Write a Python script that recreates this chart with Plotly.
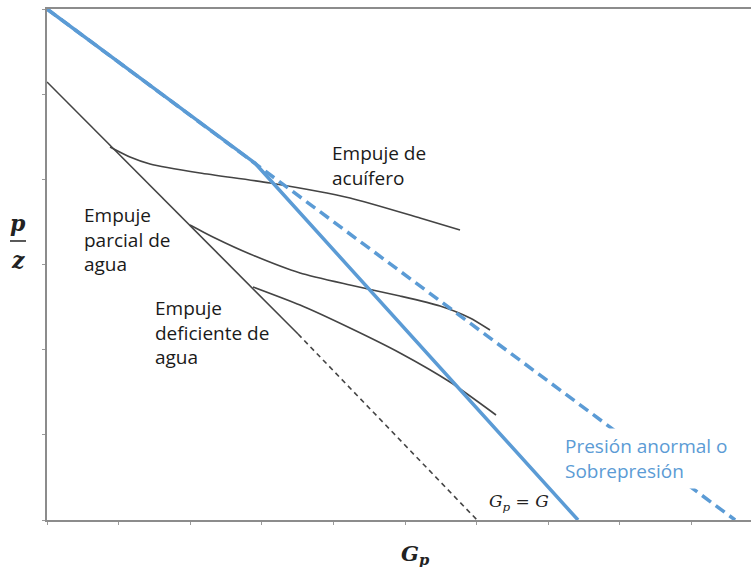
import plotly.graph_objects as go

# ---- data (axis units: x = Gp, y = p/z) ----
over_dash_x = [0.0, 9.61]
over_dash_y = [6.0, 0.0]

over_solid_x = [0.0, 2.905, 7.416]
over_solid_y = [6.0, 4.19, 0.0]

vol_solid_x = [0.0, 3.506]
vol_solid_y = [5.143, 2.184]
vol_dash_x = [3.506, 6.006]
vol_dash_y = [2.184, 0.0]

aq_x = [0.88, 1.159, 1.439, 2.137, 3.115, 4.232, 5.209, 5.768]
aq_y = [4.38, 4.262, 4.180, 4.074, 3.957, 3.781, 3.546, 3.405]

part_x = [1.997, 2.346, 2.835, 3.534, 4.232, 4.930, 5.489, 5.908, 6.187]
part_y = [3.464, 3.311, 3.123, 2.900, 2.759, 2.630, 2.513, 2.372, 2.231]

def_x = [2.877, 3.534, 4.232, 4.930, 5.628, 6.271]
def_y = [2.736, 2.524, 2.254, 1.961, 1.620, 1.233]

BLACK = "#444444"
BLUE = "#5b9bd5"

fig = go.Figure()
fig.add_trace(go.Scatter(x=vol_solid_x, y=vol_solid_y, mode="lines",
                         line=dict(color=BLACK, width=1.6)))
fig.add_trace(go.Scatter(x=vol_dash_x, y=vol_dash_y, mode="lines",
                         line=dict(color=BLACK, width=1.6, dash="5px,4px")))
for xs, ys in [(aq_x, aq_y), (part_x, part_y), (def_x, def_y)]:
    fig.add_trace(go.Scatter(x=xs, y=ys, mode="lines",
                             line=dict(color=BLACK, width=1.6, shape="spline", smoothing=0.6)))
fig.add_trace(go.Scatter(x=over_dash_x, y=over_dash_y, mode="lines",
                         line=dict(color=BLUE, width=3.5, dash="11px,6px")))
fig.add_trace(go.Scatter(x=over_solid_x, y=over_solid_y, mode="lines",
                         line=dict(color=BLUE, width=3.5)))

TXT = dict(family="Open Sans", size=19, color="#1a1a1a")
ann = [
    dict(x=3.953, y=4.168, text="Empuje de<br>acuífero"),
    dict(x=0.489, y=3.288, text="Empuje<br>parcial de<br>agua"),
    dict(x=1.48, y=2.196, text="Empuje<br>deficiente de<br>agua"),
]
for a in ann:
    fig.add_annotation(x=a["x"], y=a["y"], text=a["text"], showarrow=False,
                       xanchor="left", yanchor="middle", align="left", font=TXT)

fig.add_annotation(x=7.165, y=0.728, text="Presión anormal o<br>Sobrepresión",
                   showarrow=False, xanchor="left", yanchor="middle", align="left",
                   font=dict(family="Open Sans", size=19, color=BLUE),
                   bgcolor="white", borderpad=4)

fig.add_annotation(x=6.145, y=0.2, text="<i>G<sub>p</sub> = G</i>", showarrow=False,
                   xanchor="left", yanchor="middle",
                   font=dict(family="DejaVu Serif", size=17, color="#222222"))

# axis labels
fig.add_annotation(xref="paper", yref="paper", x=0.524, y=-0.068,
                   text="<b><i>G<sub>p</sub></i></b>", showarrow=False,
                   xanchor="center", yanchor="middle",
                   font=dict(family="DejaVu Serif", size=21, color="#222222"))
fig.add_annotation(xref="paper", yref="paper", x=-0.041, y=0.582,
                   text="<b><i>p</i></b>", showarrow=False,
                   xanchor="center", yanchor="middle",
                   font=dict(family="DejaVu Serif", size=22, color="#222222"))
fig.add_annotation(xref="paper", yref="paper", x=-0.041, y=0.508,
                   text="<b><i>z</i></b>", showarrow=False,
                   xanchor="center", yanchor="middle",
                   font=dict(family="DejaVu Serif", size=22, color="#222222"))
fig.add_shape(type="line", xref="paper", yref="paper", x0=-0.0526, x1=-0.0298,
              y0=0.546, y1=0.546, line=dict(color="#222222", width=1.5))

AX = dict(showgrid=False, zeroline=False, showline=True, linecolor="#8c8c8c",
          linewidth=2, ticks="outside", ticklen=3, tickcolor="#9a9a9a",
          showticklabels=False, dtick=1, tick0=0)
fig.update_xaxes(range=[0, 9.832], mirror=True, **AX)
fig.update_yaxes(range=[0, 6], mirror=False, **AX)

fig.update_layout(width=751, height=567, margin=dict(l=47, r=0, t=9, b=47),
                  showlegend=False, plot_bgcolor="white", paper_bgcolor="white")

fig.write_html("out.html")
